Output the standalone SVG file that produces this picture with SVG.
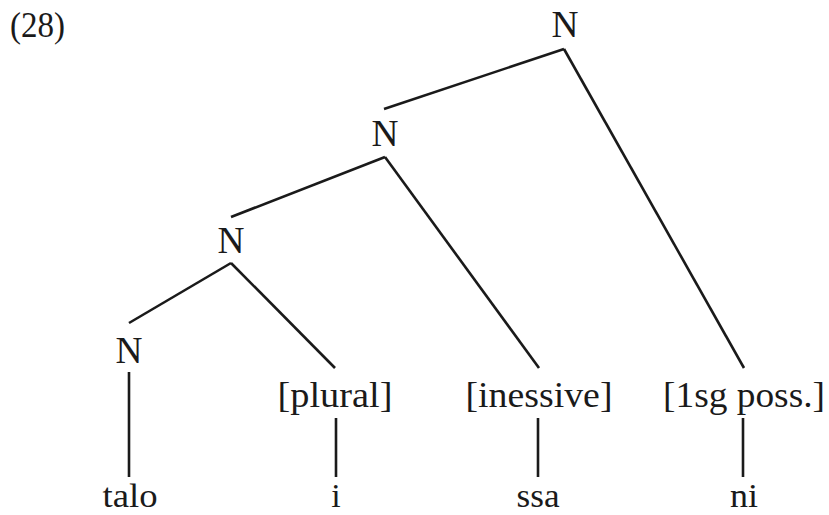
<svg xmlns="http://www.w3.org/2000/svg" width="829" height="515" viewBox="0 0 829 515">
<style>
text{font-family:"Liberation Serif","DejaVu Serif",serif;font-size:36px;fill:#1a1a1a;text-anchor:middle}
.n{font-size:37px}
.w{font-size:34px}
.edge{stroke:#1a1a1a;stroke-width:2.6;fill:none;stroke-linecap:butt}
</style>
<rect width="829" height="515" fill="#ffffff"/>
<text x="10" y="37" style="text-anchor:start" textLength="55" lengthAdjust="spacingAndGlyphs">(28)</text>
<g id="connectors">
<line class="edge" x1="564" y1="49" x2="384" y2="109"/>
<line class="edge" x1="564" y1="49" x2="744" y2="368"/>
<line class="edge" x1="385" y1="157" x2="231" y2="217"/>
<line class="edge" x1="385" y1="157" x2="539" y2="368"/>
<line class="edge" x1="231" y1="263" x2="129" y2="323"/>
<line class="edge" x1="231" y1="263" x2="335" y2="368"/>
<line class="edge" x1="129" y1="372" x2="129" y2="477"/>
<line class="edge" x1="336" y1="418" x2="336" y2="477"/>
<line class="edge" x1="538" y1="418" x2="538" y2="477"/>
<line class="edge" x1="743" y1="418" x2="743" y2="477"/>
</g>
<g id="n-top"><text class="n" x="565" y="37" textLength="27" lengthAdjust="spacingAndGlyphs">N</text></g>
<g id="n-mid"><text class="n" x="385" y="146" textLength="27" lengthAdjust="spacingAndGlyphs">N</text></g>
<g id="n-low"><text class="n" x="231" y="253" textLength="27" lengthAdjust="spacingAndGlyphs">N</text></g>
<g id="n-talo"><text class="n" x="129" y="363" textLength="27" lengthAdjust="spacingAndGlyphs">N</text></g>
<g id="plural"><text x="335" y="407" textLength="115" lengthAdjust="spacingAndGlyphs">[plural]</text></g>
<g id="inessive"><text x="539" y="407" textLength="147" lengthAdjust="spacingAndGlyphs">[inessive]</text></g>
<g id="poss"><text x="744" y="407" textLength="162" lengthAdjust="spacingAndGlyphs">[1sg poss.]</text></g>
<g id="w-talo"><text class="w" x="130" y="507" textLength="55" lengthAdjust="spacingAndGlyphs">talo</text></g>
<g id="w-i"><text class="w" x="336" y="507">i</text></g>
<g id="w-ssa"><text class="w" x="538" y="507" textLength="43" lengthAdjust="spacingAndGlyphs">ssa</text></g>
<g id="w-ni"><text class="w" x="744" y="507" textLength="28" lengthAdjust="spacingAndGlyphs">ni</text></g>
</svg>
